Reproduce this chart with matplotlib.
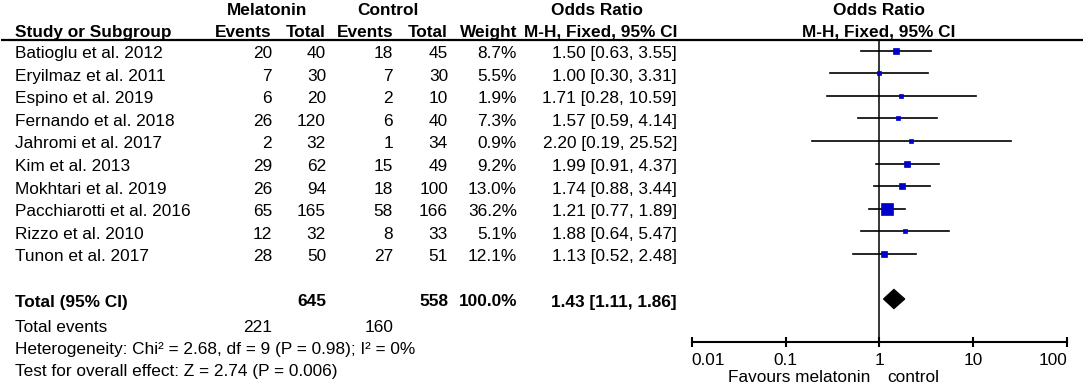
import matplotlib.pyplot as plt
from matplotlib.ticker import NullLocator

plt.rcParams['font.family'] = ['Liberation Sans', 'DejaVu Sans']

# data
studies = ['Batioglu et al. 2012', 'Eryilmaz et al. 2011', 'Espino et al. 2019',
           'Fernando et al. 2018', 'Jahromi et al. 2017', 'Kim et al. 2013',
           'Mokhtari et al. 2019', 'Pacchiarotti et al. 2016', 'Rizzo et al. 2010',
           'Tunon et al. 2017']
mel_events = [20, 7, 6, 26, 2, 29, 26, 65, 12, 28]
mel_total = [40, 30, 20, 120, 32, 62, 94, 165, 32, 50]
ctl_events = [18, 7, 2, 6, 1, 15, 18, 58, 8, 27]
ctl_total = [45, 30, 10, 40, 34, 49, 100, 166, 33, 51]
weight = [8.7, 5.5, 1.9, 7.3, 0.9, 9.2, 13.0, 36.2, 5.1, 12.1]
odds = [1.50, 1.00, 1.71, 1.57, 2.20, 1.99, 1.74, 1.21, 1.88, 1.13]
ci_low = [0.63, 0.30, 0.28, 0.59, 0.19, 0.91, 0.88, 0.77, 0.64, 0.52]
ci_high = [3.55, 3.31, 10.59, 4.14, 25.52, 4.37, 3.44, 1.89, 5.47, 2.48]

pooled = [1.43, 1.11, 1.86]
total_weight = 100.0
sum_mel_total, sum_ctl_total = 645, 558
sum_mel_events, sum_ctl_events = 221, 160
het_text = 'Heterogeneity: Chi\u00b2 = 2.68, df = 9 (P = 0.98); I\u00b2 = 0%'
test_text = 'Test for overall effect: Z = 2.74 (P = 0.006)'
ticks = [0.01, 0.1, 1, 10, 100]
tick_labels = ['0.01', '0.1', '1', '10', '100']

W, H = 1084, 389
fig = plt.figure(figsize=(W / 100, H / 100), dpi=100)
ax = fig.add_axes([0, 0, 1, 1])
ax.set_xlim(0, W)
ax.set_ylim(H, 0)
ax.axis('off')

fs = 12.4
blue = '#0000cc'
row0, step = 50.5, 22.6
base = 7.5  # baseline offset below row centre
x_ev1, x_tot1, x_ev2, x_tot2, x_wt, x_ci = 272, 326, 393, 448, 517, 677

# headers
ax.text(267, 15, 'Melatonin', ha='center', va='baseline', fontsize=fs, weight='bold')
ax.text(388, 15, 'Control', ha='center', va='baseline', fontsize=fs, weight='bold')
ax.text(597, 15, 'Odds Ratio', ha='center', va='baseline', fontsize=fs, weight='bold')
ax.text(879, 15, 'Odds Ratio', ha='center', va='baseline', fontsize=fs, weight='bold')
ax.text(15, 36.5, 'Study or Subgroup', ha='left', va='baseline', fontsize=fs, weight='bold')
for x, s in [(x_ev1, 'Events'), (x_tot1, 'Total'), (x_ev2, 'Events'), (x_tot2, 'Total'),
             (x_wt, 'Weight'), (x_ci, 'M-H, Fixed, 95% CI')]:
    ax.text(x, 36.5, s, ha='right', va='baseline', fontsize=fs, weight='bold')
ax.text(879, 36.5, 'M-H, Fixed, 95% CI', ha='center', va='baseline', fontsize=fs, weight='bold')
ax.plot([1, 1083], [40, 40], color='black', lw=1.6, solid_capstyle='butt')

# study rows
for i, name in enumerate(studies):
    y = row0 + step * i + base
    ax.text(15, y, name, ha='left', va='baseline', fontsize=fs)
    ax.text(x_ev1, y, str(mel_events[i]), ha='right', va='baseline', fontsize=fs)
    ax.text(x_tot1, y, str(mel_total[i]), ha='right', va='baseline', fontsize=fs)
    ax.text(x_ev2, y, str(ctl_events[i]), ha='right', va='baseline', fontsize=fs)
    ax.text(x_tot2, y, str(ctl_total[i]), ha='right', va='baseline', fontsize=fs)
    ax.text(x_wt, y, f'{weight[i]:.1f}%', ha='right', va='baseline', fontsize=fs)
    ax.text(x_ci, y, f'{odds[i]:.2f} [{ci_low[i]:.2f}, {ci_high[i]:.2f}]',
            ha='right', va='baseline', fontsize=fs)

# totals
y_tot = 299
ax.text(15, y_tot + base, 'Total (95% CI)', ha='left', va='baseline', fontsize=fs, weight='bold')
ax.text(x_tot1, y_tot + base, str(sum_mel_total), ha='right', va='baseline', fontsize=fs, weight='bold')
ax.text(x_tot2, y_tot + base, str(sum_ctl_total), ha='right', va='baseline', fontsize=fs, weight='bold')
ax.text(x_wt, y_tot + base, f'{total_weight:.1f}%', ha='right', va='baseline', fontsize=fs, weight='bold')
ax.text(x_ci, y_tot + base, f'{pooled[0]:.2f} [{pooled[1]:.2f}, {pooled[2]:.2f}]',
        ha='right', va='baseline', fontsize=fs, weight='bold')
ax.text(15, 332, 'Total events', ha='left', va='baseline', fontsize=fs)
ax.text(x_ev1, 332, str(sum_mel_events), ha='right', va='baseline', fontsize=fs)
ax.text(x_ev2, 332, str(sum_ctl_events), ha='right', va='baseline', fontsize=fs)
ax.text(15, 354, het_text, ha='left', va='baseline', fontsize=fs)
ax.text(15, 376, test_text, ha='left', va='baseline', fontsize=fs)

# forest panel, y in pixel units
x0, x1 = 691.7, 1067
y_top, y_axis = 40, 341.7
axf = fig.add_axes([x0 / W, (H - y_axis) / H, (x1 - x0) / W, (y_axis - y_top) / H])
axf.set_facecolor('none')
axf.set_xscale('log')
axf.set_xlim(0.01, 100)
axf.set_ylim(y_axis, y_top)
for s in ['top', 'left', 'right']:
    axf.spines[s].set_visible(False)
axf.spines['bottom'].set_linewidth(1.5)
axf.set_yticks([])
axf.set_xticks(ticks)
axf.set_xticklabels(tick_labels)
axf.xaxis.set_minor_locator(NullLocator())
axf.tick_params(axis='x', direction='inout', length=6.5, width=1.5, labelsize=fs, pad=5)
lbls = axf.get_xticklabels()
lbls[0].set_ha('left')
lbls[-1].set_ha('right')

axf.axvline(1, color='black', lw=1.1)
for i in range(len(studies)):
    y = row0 + step * i
    axf.plot([ci_low[i], ci_high[i]], [y, y], color='black', lw=1.2)
    side = 3 + 0.23 * weight[i]
    axf.plot(odds[i], y, marker='s', ms=side * 0.72, color=blue, mec=blue, mew=0.5)

dh = 9.5
axf.fill([pooled[1], pooled[0], pooled[2], pooled[0]],
         [y_tot, y_tot - dh, y_tot, y_tot + dh], color='black')

ax.text(728, 382, 'Favours melatonin', ha='left', va='baseline', fontsize=fs)
ax.text(887, 382, 'control', ha='left', va='baseline', fontsize=fs)

fig.savefig('out.png', dpi=100)
